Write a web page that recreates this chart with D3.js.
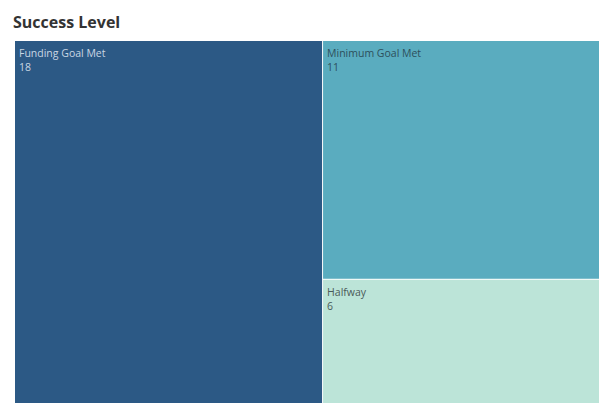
<!DOCTYPE html>
<html>
<head>
<meta charset="utf-8">
<script src="https://cdn.jsdelivr.net/npm/d3@7"></script>
<style>
  html, body { margin: 0; padding: 0; background: #fff; overflow: hidden; }
  svg { display: block; }
</style>
</head>
<body>
<svg id="chart" width="599" height="403"></svg>
<script>
// Success level counts
const categories = ["Funding Goal Met", "Minimum Goal Met", "Halfway"];
const counts = [18, 11, 6];
const colors = ["#2c5985", "#5aacbf", "#bce4d8"];
const labelColors = ["#c9d6e3", "#2d4f5c", "#4a5a58"];

const svg = d3.select("#chart");

svg.append("text")
  .attr("x", 13)
  .attr("y", 28)
  .attr("font-family", "Open Sans, sans-serif")
  .attr("font-weight", "bold")
  .attr("font-size", 16)
  .attr("fill", "#333")
  .text("Success Level");

const root = d3.hierarchy({
  children: categories.map((c, i) => ({ name: c, value: counts[i], idx: i }))
}).sum(d => d.value || 0);

// The view extends past the right and bottom edge of the page
d3.treemap()
  .tile(d3.treemapBinary)
  .size([598, 368])
  .paddingInner(1)(root);

const g = svg.append("g").attr("transform", "translate(15,41)");

const cell = g.selectAll("g.cell")
  .data(root.leaves())
  .join("g")
  .attr("class", "cell")
  .attr("transform", d => `translate(${d.x0},${d.y0})`);

cell.append("rect")
  .attr("width", d => d.x1 - d.x0)
  .attr("height", d => d.y1 - d.y0)
  .attr("fill", d => colors[d.data.idx]);

const label = cell.append("text")
  .attr("font-family", "Open Sans, sans-serif")
  .attr("font-size", 10.5)
  .attr("fill", d => labelColors[d.data.idx]);

label.append("tspan")
  .attr("x", 4)
  .attr("y", 16)
  .text(d => d.data.name);

label.append("tspan")
  .attr("x", 4)
  .attr("y", 30)
  .text(d => d.data.value);
</script>
</body>
</html>
